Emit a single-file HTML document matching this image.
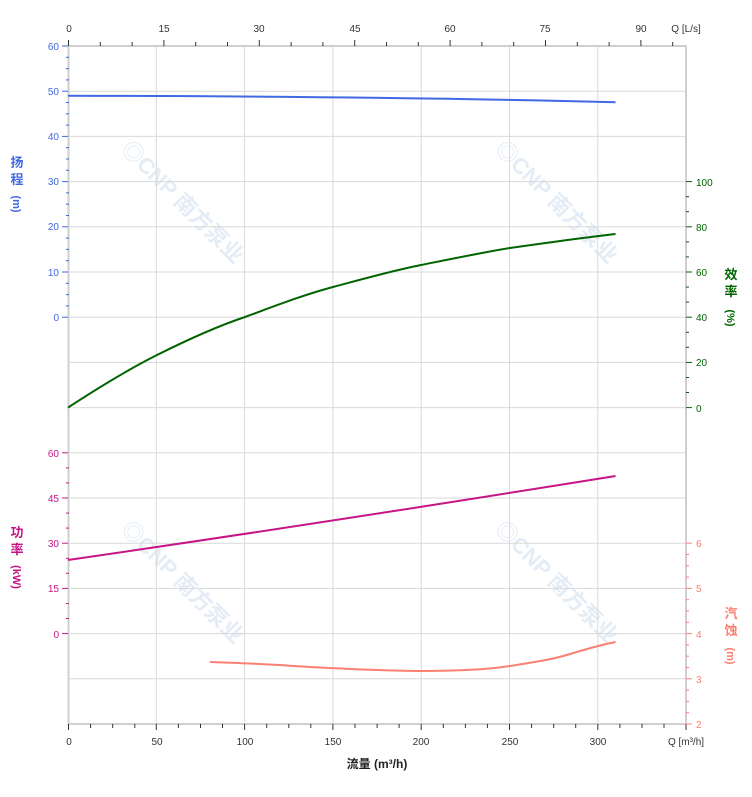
<!DOCTYPE html>
<html><head><meta charset="utf-8"><style>
html,body{margin:0;padding:0;background:#fff;}
svg{display:block;font-family:"Liberation Sans","Noto Sans CJK SC",sans-serif;}
</style></head><body>
<svg width="752" height="797" viewBox="0 0 752 797" xmlns="http://www.w3.org/2000/svg">
<rect width="752" height="797" fill="#fff"/>
<!-- watermarks -->
<g fill="#e4ecf6" font-size="22" font-weight="bold">
<text x="0" y="0" transform="translate(120,150) rotate(45)">◎CNP 南方泵业</text>
<text x="0" y="0" transform="translate(494,150) rotate(45)">◎CNP 南方泵业</text>
<text x="0" y="0" transform="translate(120,530) rotate(45)">◎CNP 南方泵业</text>
<text x="0" y="0" transform="translate(494,530) rotate(45)">◎CNP 南方泵业</text>
</g>
<!-- grid -->
<g stroke="#d9d9d9" stroke-width="1">
<line x1="68" x2="686" y1="91.2" y2="91.2"/><line x1="68" x2="686" y1="136.4" y2="136.4"/>
<line x1="68" x2="686" y1="181.6" y2="181.6"/><line x1="68" x2="686" y1="226.8" y2="226.8"/>
<line x1="68" x2="686" y1="272" y2="272"/><line x1="68" x2="686" y1="317.2" y2="317.2"/>
<line x1="68" x2="686" y1="362.4" y2="362.4"/><line x1="68" x2="686" y1="407.6" y2="407.6"/>
<line x1="68" x2="686" y1="452.8" y2="452.8"/><line x1="68" x2="686" y1="498" y2="498"/>
<line x1="68" x2="686" y1="543.2" y2="543.2"/><line x1="68" x2="686" y1="588.4" y2="588.4"/>
<line x1="68" x2="686" y1="633.6" y2="633.6"/><line x1="68" x2="686" y1="678.8" y2="678.8"/>
<line x1="156.3" x2="156.3" y1="46" y2="724"/><line x1="244.6" x2="244.6" y1="46" y2="724"/>
<line x1="332.9" x2="332.9" y1="46" y2="724"/><line x1="421.2" x2="421.2" y1="46" y2="724"/>
<line x1="509.5" x2="509.5" y1="46" y2="724"/><line x1="597.8" x2="597.8" y1="46" y2="724"/>
</g>
<!-- frame -->
<g stroke="#cfcfcf" stroke-width="2" fill="none">
<line x1="68.5" y1="45" x2="68.5" y2="725"/>
<line x1="686" y1="45" x2="686" y2="725"/>
<line x1="68" y1="46" x2="686" y2="46"/>
<line x1="68" y1="724" x2="686" y2="724"/>
</g>
<!-- top ticks -->
<g stroke="#333" stroke-width="1">
<line x1="68.5" x2="68.5" y1="40" y2="46"/><line x1="100.3" x2="100.3" y1="42" y2="46"/><line x1="132.1" x2="132.1" y1="42" y2="46"/>
<line x1="163.9" x2="163.9" y1="40" y2="46"/><line x1="195.7" x2="195.7" y1="42" y2="46"/><line x1="227.5" x2="227.5" y1="42" y2="46"/>
<line x1="259.3" x2="259.3" y1="40" y2="46"/><line x1="291.1" x2="291.1" y1="42" y2="46"/><line x1="322.9" x2="322.9" y1="42" y2="46"/>
<line x1="354.7" x2="354.7" y1="40" y2="46"/><line x1="386.5" x2="386.5" y1="42" y2="46"/><line x1="418.3" x2="418.3" y1="42" y2="46"/>
<line x1="450.1" x2="450.1" y1="40" y2="46"/><line x1="481.9" x2="481.9" y1="42" y2="46"/><line x1="513.7" x2="513.7" y1="42" y2="46"/>
<line x1="545.5" x2="545.5" y1="40" y2="46"/><line x1="577.3" x2="577.3" y1="42" y2="46"/><line x1="609.1" x2="609.1" y1="42" y2="46"/>
<line x1="640.9" x2="640.9" y1="40" y2="46"/><line x1="672.7" x2="672.7" y1="42" y2="46"/>
</g>
<!-- bottom ticks -->
<g stroke="#333" stroke-width="1">
<line x1="68.5" x2="68.5" y1="724" y2="730"/><line x1="156.3" x2="156.3" y1="724" y2="730"/><line x1="244.6" x2="244.6" y1="724" y2="730"/>
<line x1="332.9" x2="332.9" y1="724" y2="730"/><line x1="421.2" x2="421.2" y1="724" y2="730"/><line x1="509.5" x2="509.5" y1="724" y2="730"/>
<line x1="597.8" x2="597.8" y1="724" y2="730"/><line x1="686" x2="686" y1="724" y2="730"/>
<line x1="90.6" x2="90.6" y1="724" y2="728"/><line x1="112.7" x2="112.7" y1="724" y2="728"/><line x1="134.8" x2="134.8" y1="724" y2="728"/>
<line x1="178.4" x2="178.4" y1="724" y2="728"/><line x1="200.5" x2="200.5" y1="724" y2="728"/><line x1="222.5" x2="222.5" y1="724" y2="728"/>
<line x1="266.7" x2="266.7" y1="724" y2="728"/><line x1="288.8" x2="288.8" y1="724" y2="728"/><line x1="310.8" x2="310.8" y1="724" y2="728"/>
<line x1="355" x2="355" y1="724" y2="728"/><line x1="377.1" x2="377.1" y1="724" y2="728"/><line x1="399.1" x2="399.1" y1="724" y2="728"/>
<line x1="443.3" x2="443.3" y1="724" y2="728"/><line x1="465.4" x2="465.4" y1="724" y2="728"/><line x1="487.4" x2="487.4" y1="724" y2="728"/>
<line x1="531.6" x2="531.6" y1="724" y2="728"/><line x1="553.7" x2="553.7" y1="724" y2="728"/><line x1="575.7" x2="575.7" y1="724" y2="728"/>
<line x1="619.9" x2="619.9" y1="724" y2="728"/><line x1="642" x2="642" y1="724" y2="728"/><line x1="664" x2="664" y1="724" y2="728"/>
</g>
<!-- top labels -->
<g font-size="10" fill="#333" text-anchor="middle">
<text x="69" y="32">0</text><text x="164" y="32">15</text><text x="259" y="32">30</text><text x="355" y="32">45</text>
<text x="450" y="32">60</text><text x="545" y="32">75</text><text x="641" y="32">90</text>
<text x="686" y="32">Q [L/s]</text>
</g>
<!-- bottom labels -->
<g font-size="10" fill="#333" text-anchor="middle">
<text x="69" y="745">0</text><text x="157" y="745">50</text><text x="245" y="745">100</text><text x="333" y="745">150</text>
<text x="421" y="745">200</text><text x="510" y="745">250</text><text x="598" y="745">300</text>
<text x="686" y="745">Q [m³/h]</text>
</g>
<text x="377" y="768" font-size="12" font-weight="bold" fill="#222" text-anchor="middle">流量 (m³/h)</text>
<!-- head axis -->
<g stroke="#4169e1" stroke-width="1">
<line x1="62" x2="68" y1="46" y2="46"/><line x1="62" x2="68" y1="91.2" y2="91.2"/><line x1="62" x2="68" y1="136.4" y2="136.4"/>
<line x1="62" x2="68" y1="181.6" y2="181.6"/><line x1="62" x2="68" y1="226.8" y2="226.8"/><line x1="62" x2="68" y1="272" y2="272"/><line x1="62" x2="68" y1="317.2" y2="317.2"/>
<line x1="66" x2="69" y1="57.3" y2="57.3"/><line x1="66" x2="69" y1="68.6" y2="68.6"/><line x1="66" x2="69" y1="79.9" y2="79.9"/>
<line x1="66" x2="69" y1="102.5" y2="102.5"/><line x1="66" x2="69" y1="113.8" y2="113.8"/><line x1="66" x2="69" y1="125.1" y2="125.1"/>
<line x1="66" x2="69" y1="147.7" y2="147.7"/><line x1="66" x2="69" y1="159" y2="159"/><line x1="66" x2="69" y1="170.3" y2="170.3"/>
<line x1="66" x2="69" y1="192.9" y2="192.9"/><line x1="66" x2="69" y1="204.2" y2="204.2"/><line x1="66" x2="69" y1="215.5" y2="215.5"/>
<line x1="66" x2="69" y1="238.1" y2="238.1"/><line x1="66" x2="69" y1="249.4" y2="249.4"/><line x1="66" x2="69" y1="260.7" y2="260.7"/>
<line x1="66" x2="69" y1="283.3" y2="283.3"/><line x1="66" x2="69" y1="294.6" y2="294.6"/><line x1="66" x2="69" y1="305.9" y2="305.9"/>
</g>
<g font-size="10" fill="#4169e1" text-anchor="end">
<text x="59" y="50">60</text><text x="59" y="95">50</text><text x="59" y="140">40</text><text x="59" y="185">30</text>
<text x="59" y="230">20</text><text x="59" y="276">10</text><text x="59" y="321">0</text>
</g>
<g font-size="13" fill="#4169e1" text-anchor="middle" font-weight="bold">
<text x="17" y="167">扬</text><text x="17" y="184">程</text>
<text x="17" y="204" font-size="11" transform="rotate(90 17 204)" text-anchor="middle" dy="4">(m)</text>
</g>
<!-- power axis -->
<g stroke="#c71585" stroke-width="1">
<line x1="62" x2="68" y1="452.8" y2="452.8"/><line x1="62" x2="68" y1="498" y2="498"/><line x1="62" x2="68" y1="543.2" y2="543.2"/>
<line x1="62" x2="68" y1="588.4" y2="588.4"/><line x1="62" x2="68" y1="633.6" y2="633.6"/>
<line x1="66" x2="69" y1="467.9" y2="467.9"/><line x1="66" x2="69" y1="482.9" y2="482.9"/><line x1="66" x2="69" y1="513.1" y2="513.1"/>
<line x1="66" x2="69" y1="528.1" y2="528.1"/><line x1="66" x2="69" y1="558.3" y2="558.3"/><line x1="66" x2="69" y1="573.3" y2="573.3"/>
<line x1="66" x2="69" y1="603.5" y2="603.5"/><line x1="66" x2="69" y1="618.5" y2="618.5"/>
</g>
<g font-size="10" fill="#c71585" text-anchor="end">
<text x="59" y="457">60</text><text x="59" y="502">45</text><text x="59" y="547">30</text><text x="59" y="592">15</text><text x="59" y="638">0</text>
</g>
<g font-size="13" fill="#c71585" text-anchor="middle" font-weight="bold">
<text x="17" y="537">功</text><text x="17" y="554">率</text>
<text x="17" y="577" font-size="11" transform="rotate(90 17 577)" dy="4">(kW)</text>
</g>
<!-- efficiency axis -->
<g stroke="#006400" stroke-width="1">
<line x1="686" x2="692" y1="181.6" y2="181.6"/><line x1="686" x2="692" y1="226.8" y2="226.8"/><line x1="686" x2="692" y1="272" y2="272"/>
<line x1="686" x2="692" y1="317.2" y2="317.2"/><line x1="686" x2="692" y1="362.4" y2="362.4"/><line x1="686" x2="692" y1="407.6" y2="407.6"/>
<line x1="686" x2="689" y1="196.7" y2="196.7"/><line x1="686" x2="689" y1="211.7" y2="211.7"/><line x1="686" x2="689" y1="241.9" y2="241.9"/>
<line x1="686" x2="689" y1="256.9" y2="256.9"/><line x1="686" x2="689" y1="287.1" y2="287.1"/><line x1="686" x2="689" y1="302.1" y2="302.1"/>
<line x1="686" x2="689" y1="332.3" y2="332.3"/><line x1="686" x2="689" y1="347.3" y2="347.3"/><line x1="686" x2="689" y1="377.5" y2="377.5"/>
<line x1="686" x2="689" y1="392.5" y2="392.5"/>
</g>
<g font-size="10" fill="#006400">
<text x="696" y="186">100</text><text x="696" y="231">80</text><text x="696" y="276">60</text><text x="696" y="321">40</text>
<text x="696" y="366">20</text><text x="696" y="412">0</text>
</g>
<g font-size="13" fill="#006400" text-anchor="middle" font-weight="bold">
<text x="731" y="279">效</text><text x="731" y="296">率</text>
<text x="731" y="318" font-size="11" transform="rotate(90 731 318)" dy="4">(%)</text>
</g>
<!-- npsh axis -->
<g stroke="#fa8072" stroke-width="1">
<line x1="686" x2="692" y1="543.2" y2="543.2"/><line x1="686" x2="692" y1="588.4" y2="588.4"/><line x1="686" x2="692" y1="633.6" y2="633.6"/>
<line x1="686" x2="692" y1="678.8" y2="678.8"/><line x1="686" x2="692" y1="724" y2="724"/>
<line x1="686" x2="689" y1="554.5" y2="554.5"/><line x1="686" x2="689" y1="565.8" y2="565.8"/><line x1="686" x2="689" y1="577.1" y2="577.1"/>
<line x1="686" x2="689" y1="599.7" y2="599.7"/><line x1="686" x2="689" y1="611" y2="611"/><line x1="686" x2="689" y1="622.3" y2="622.3"/>
<line x1="686" x2="689" y1="644.9" y2="644.9"/><line x1="686" x2="689" y1="656.2" y2="656.2"/><line x1="686" x2="689" y1="667.5" y2="667.5"/>
<line x1="686" x2="689" y1="690.1" y2="690.1"/><line x1="686" x2="689" y1="701.4" y2="701.4"/><line x1="686" x2="689" y1="712.7" y2="712.7"/>
</g>
<g font-size="10" fill="#fa8072">
<text x="696" y="547">6</text><text x="696" y="592">5</text><text x="696" y="638">4</text><text x="696" y="683">3</text><text x="696" y="728">2</text>
</g>
<g font-size="13" fill="#fa8072" text-anchor="middle" font-weight="bold">
<text x="731" y="618">汽</text><text x="731" y="635">蚀</text>
<text x="731" y="656" font-size="11" transform="rotate(90 731 656)" dy="4">(m)</text>
</g>
<!-- curves -->
<path d="M68,95.7 Q400,96.5 615.5,102.3" fill="none" stroke="#4169e1" stroke-width="2"/>
<path d="M68,407.6 C98,388 127,370 157,355 C187,340 215,327 245,317 C275,306 303,295 333,287 C363,279 391,271 421,265 C451,259 480,253 510,248 C545,243 580,238 615.5,234" fill="none" stroke="#006400" stroke-width="2"/>
<path d="M68,560 Q330,522 615.5,476" fill="none" stroke="#c71585" stroke-width="2"/>
<path d="M210,662 C240,663 260,664 280,665 C305,667 330,668 350,669 C375,670 400,671 421,671 C455,671 485,670 510,666 C535,662 555,659 570,654 C590,648 605,644 615.5,642" fill="none" stroke="#fa8072" stroke-width="2"/>
</svg>
</body></html>
